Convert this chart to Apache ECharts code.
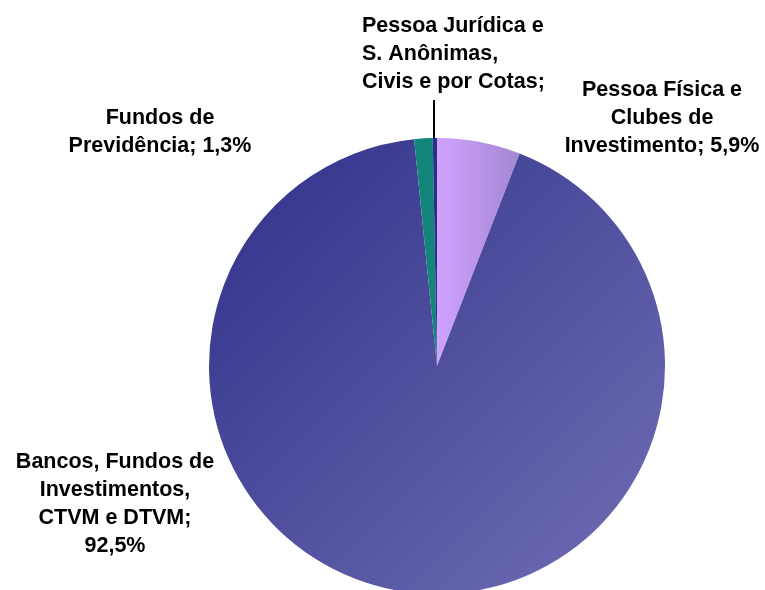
<!DOCTYPE html>
<html>
<head>
    <meta charset="utf-8">
    <title>ECharts</title>
    <script src="https://cdn.jsdelivr.net/npm/echarts@6/dist/echarts.min.js"></script>
    <style>
        body { margin: 0; background: #fff; }
        #main { width: 765px; height: 590px; }
    </style>
</head>
<body>
    <div id="main"></div>
    <script type="text/javascript">
        // dados do gráfico (sentido horário a partir do topo)
        var categorias = [
            'Pessoa Física e\nClubes de\nInvestimento',
            'Bancos, Fundos de\nInvestimentos,\nCTVM e DTVM',
            'Fundos de\nPrevidência',
            'Pessoa Jurídica e\nS. Anônimas,\nCivis e por Cotas'
        ];
        var valores = [5.9, 92.5, 1.3, 0.3];
        var rotulos = [
            'Pessoa Física e\nClubes de\nInvestimento; 5,9%',
            'Bancos, Fundos de\nInvestimentos,\nCTVM e DTVM;\n92,5%',
            'Fundos de\nPrevidência; 1,3%',
            'Pessoa Jurídica e\nS. Anônimas,\nCivis e por Cotas;'
        ];

        // posição dos rótulos (centro do bloco de texto)
        var posRotulos = [
            { x: 662, y: 118, align: 'center' },
            { x: 115, y: 504, align: 'center' },
            { x: 160, y: 132, align: 'center' },
            { x: 362, y: 54, align: 'left' }
        ];

        var cores = [
            new echarts.graphic.LinearGradient(0, 0, 1, 0, [
                { offset: 0, color: '#d0a2ff' },
                { offset: 1, color: '#a486d2' }
            ]),
            new echarts.graphic.LinearGradient(0, 0, 1, 1, [
                { offset: 0, color: '#2f3189' },
                { offset: 1, color: '#706eb4' }
            ]),
            '#13857a',
            '#2a2e8c'
        ];

        var myChart = echarts.init(document.getElementById('main'), null, { renderer: 'canvas' });

        var dados = valores.map(function (v, i) {
            return {
                name: categorias[i],
                value: v,
                itemStyle: { color: cores[i] },
                label: { formatter: rotulos[i], align: posRotulos[i].align }
            };
        });

        var option = {
            backgroundColor: '#ffffff',
            animation: false,
            series: [{
                type: 'pie',
                center: [437, 366],
                radius: 228,
                startAngle: 90,
                clockwise: true,
                avoidLabelOverlap: false,
                data: dados,
                label: {
                    show: true,
                    position: 'outside',
                    color: '#000',
                    fontFamily: '"Liberation Sans", Arial, sans-serif',
                    fontWeight: 'bold',
                    fontSize: 21.5,
                    lineHeight: 28,
                    verticalAlign: 'middle'
                },
                labelLine: { show: false },
                labelLayout: function (params) {
                    var p = posRotulos[params.dataIndex];
                    var res = { x: p.x, y: p.y, align: p.align, verticalAlign: 'middle' };
                    if (params.dataIndex === 3) {
                        res.labelLinePoints = [[434, 140], [434, 120], [434, 100]];
                    }
                    return res;
                },
                emphasis: { disabled: true }
            }]
        };

        // linha de chamada só para a fatia menor
        option.series[0].data[3].labelLine = {
            show: true,
            length: 10,
            length2: 10,
            lineStyle: { color: '#000', width: 2 }
        };

        myChart.setOption(option);
    </script>
</body>
</html>
